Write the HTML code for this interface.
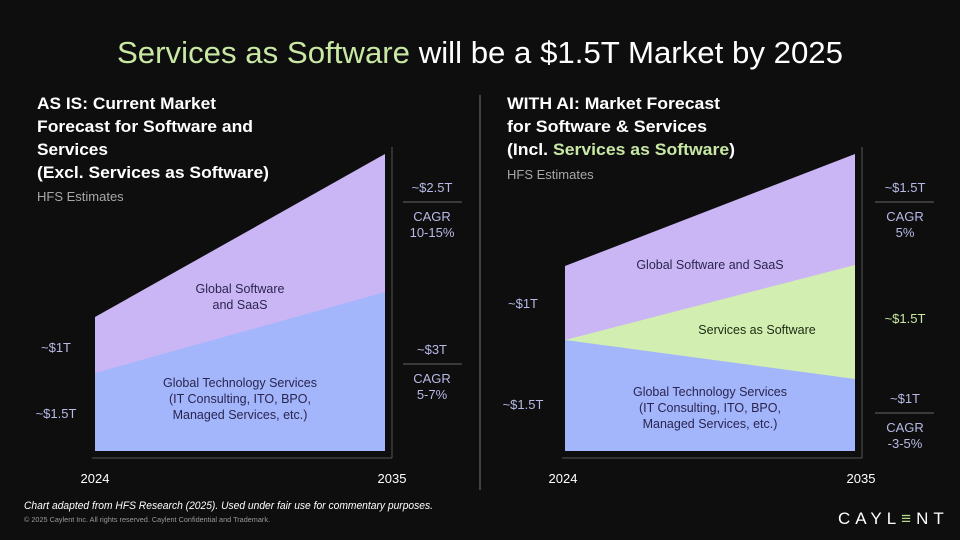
<!DOCTYPE html>
<html><head><meta charset="utf-8"><style>
html,body{margin:0;padding:0;background:#0e0e0e;}
svg{display:block;font-family:"Liberation Sans",sans-serif;}
</style></head><body>
<svg width="960" height="540" viewBox="0 0 960 540">
<rect width="960" height="540" fill="#0e0e0e"/>
<text x="117" y="63" font-size="31" fill="#ffffff" textLength="726" lengthAdjust="spacingAndGlyphs"><tspan fill="#c8e8a4">Services as Software</tspan> will be a $1.5T Market by 2025</text>

<g font-size="17" fill="#ffffff" font-weight="bold">
<text x="37" y="109" textLength="179" lengthAdjust="spacingAndGlyphs">AS IS: Current Market</text>
<text x="37" y="132" textLength="216" lengthAdjust="spacingAndGlyphs">Forecast for Software and</text>
<text x="37" y="155" textLength="71" lengthAdjust="spacingAndGlyphs">Services</text>
<text x="37" y="178" textLength="232" lengthAdjust="spacingAndGlyphs">(Excl. Services as Software)</text>
<text x="507" y="109" textLength="213" lengthAdjust="spacingAndGlyphs">WITH AI: Market Forecast</text>
<text x="507" y="132" textLength="200" lengthAdjust="spacingAndGlyphs">for Software &amp;  Services</text>
<text x="507" y="155" textLength="228" lengthAdjust="spacingAndGlyphs">(Incl. <tspan fill="#c8e8a4">Services as Software</tspan>)</text>
</g>
<text x="37" y="201" font-size="13" fill="#a8a8a8">HFS Estimates</text>
<text x="507" y="179" font-size="13" fill="#a8a8a8">HFS Estimates</text>

<!-- left chart -->
<polygon points="95,317 385,154 385,451 95,451" fill="#cbb6f5"/>
<polygon points="95,373 385,292 385,451 95,451" fill="#a3b5fb"/>
<line x1="92" y1="458" x2="392" y2="458" stroke="#555" stroke-width="1"/>
<line x1="392" y1="147" x2="392" y2="458" stroke="#555" stroke-width="1"/>
<g font-size="12.5" fill="#2a2550" text-anchor="middle">
<text x="240" y="293">Global Software</text>
<text x="240" y="309">and SaaS</text>
<text x="240" y="387">Global Technology Services</text>
<text x="240" y="403">(IT Consulting, ITO, BPO,</text>
<text x="240" y="419">Managed Services, etc.)</text>
</g>
<g font-size="13" fill="#b7b9e6" text-anchor="middle">
<text x="56" y="352">~$1T</text>
<text x="56" y="418">~$1.5T</text>
<text x="432" y="192">~$2.5T</text>
<text x="432" y="221">CAGR</text>
<text x="432" y="237">10-15%</text>
<text x="432" y="354">~$3T</text>
<text x="432" y="383">CAGR</text>
<text x="432" y="399">5-7%</text>
<text x="905" y="192">~$1.5T</text>
<text x="905" y="221">CAGR</text>
<text x="905" y="237">5%</text>
<text x="905" y="403">~$1T</text>
<text x="905" y="432">CAGR</text>
<text x="905" y="448">-3-5%</text>
<text x="523" y="308">~$1T</text>
<text x="523" y="409">~$1.5T</text>
</g>
<text x="905" y="323" font-size="13" fill="#c8e8a4" text-anchor="middle">~$1.5T</text>
<g stroke="#666" stroke-width="1">
<line x1="403" y1="202" x2="462" y2="202"/>
<line x1="403" y1="364" x2="462" y2="364"/>
<line x1="875" y1="202" x2="934" y2="202"/>
<line x1="875" y1="413" x2="934" y2="413"/>
</g>
<g font-size="13" fill="#ffffff" text-anchor="middle">
<text x="95" y="483">2024</text>
<text x="392" y="483">2035</text>
<text x="563" y="483">2024</text>
<text x="861" y="483">2035</text>
</g>

<line x1="480" y1="95" x2="480" y2="490" stroke="#777" stroke-width="1"/>

<!-- right chart -->
<polygon points="565,266 855,154 855,451 565,451" fill="#cbb6f5"/>
<polygon points="565,340 855,265 855,451 565,451" fill="#d2eeb0"/>
<polygon points="565,340 855,379 855,451 565,451" fill="#a3b5fb"/>
<line x1="562" y1="458" x2="862" y2="458" stroke="#555" stroke-width="1"/>
<line x1="862" y1="147" x2="862" y2="458" stroke="#555" stroke-width="1"/>
<g font-size="12.5" fill="#2a2550" text-anchor="middle">
<text x="710" y="269">Global Software and SaaS</text>
<text x="757" y="334" fill="#1e2a14">Services as Software</text>
<text x="710" y="396">Global Technology Services</text>
<text x="710" y="412">(IT Consulting, ITO, BPO,</text>
<text x="710" y="428">Managed Services, etc.)</text>
</g>

<text x="24" y="509" font-size="11" font-style="italic" fill="#ffffff" textLength="409" lengthAdjust="spacingAndGlyphs">Chart adapted from HFS Research (2025). Used under fair use for commentary purposes.</text>
<text x="24" y="522" font-size="7" fill="#999" textLength="246" lengthAdjust="spacingAndGlyphs">© 2025 Caylent Inc. All rights reserved. Caylent Confidential and Trademark.</text>
<text x="838" y="524" font-size="17" fill="#ffffff" letter-spacing="5">CAYL<tspan fill="#b5d98a">≡</tspan>NT</text>
</svg>
</body></html>
